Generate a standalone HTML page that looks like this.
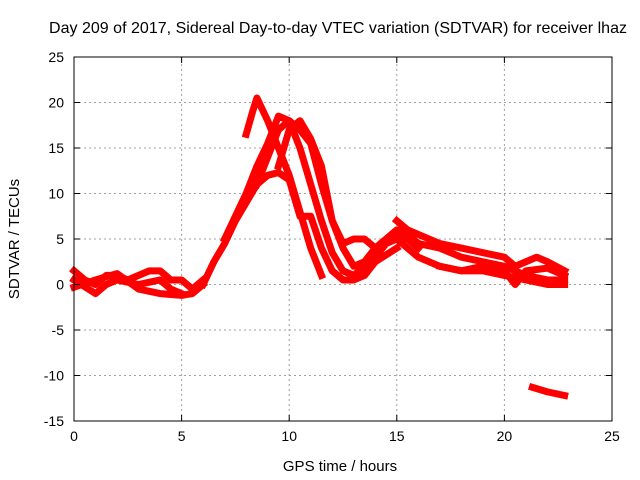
<!DOCTYPE html>
<html><head><meta charset="utf-8"><style>
body{margin:0;background:#fff;}
svg{display:block;font-family:"Liberation Sans",sans-serif;}
</style></head><body>
<svg id="chart" width="640" height="480">
<g id="grid"></g>
<g id="series"></g>
<g id="axes"></g>
<text x="338" y="33" text-anchor="middle" font-size="16" textLength="578">Day 209 of 2017, Sidereal Day-to-day VTEC variation (SDTVAR) for receiver lhaz</text>
<text x="340" y="471" text-anchor="middle" font-size="15">GPS time / hours</text>
<text x="19" y="239" text-anchor="middle" font-size="15" transform="rotate(-90 19 239)">SDTVAR / TECUs</text>
</svg>
<script>
const xTicks=[0,5,10,15,20,25];
const yTicks=[-15,-10,-5,0,5,10,15,20,25];
const tracks=[
[[0,1.5],[0.5,0.5],[1,0],[1.5,1],[2,1],[2.5,0.5],[3,1],[3.5,1.5],[4,1.5],[4.5,0.5],[5,0.5],[5.5,-0.5],[6,0.5]],
[[0,-0.3],[1,0.5],[2,1.2],[3,-0.5],[4,-1],[5,-1.2],[5.5,-1],[6,0]],
[[0,0.5],[1,-1],[1.5,0],[2,0.5],[3,0],[4,0.5],[4.5,-0.5],[5,-1]],
[[6,0],[6.5,2.5],[7,4.5],[7.5,7],[8,9],[8.5,11],[9,12],[9.5,12.3],[10,11.5],[10.5,7.5],[11,7.5],[11.5,4],[12,1.5],[12.5,0.5],[13,0.5],[13.5,1],[14,2.5],[15,4]],
[[7,5],[7.5,7.5],[8,10],[8.5,13],[9,15.5],[9.5,18.5],[10,18],[10.5,15],[11,11],[11.5,7],[12,3.5],[12.5,1.5],[13,1],[13.5,2],[14,3],[14.5,4.5],[15,5.5],[15.5,5],[16,4]],
[[8,16.5],[8.3,19],[8.5,20.5],[9,18],[9.5,15],[10,12],[10.5,8],[11,4],[11.5,1]],
[[8.5,11],[9,14],[9.5,17],[10,18],[10.5,17],[11,15.5],[11.5,11],[12,7],[12.5,4],[13,2],[13.5,2.5],[14,4],[14.5,5],[15,6],[15.5,5.5],[16,4.5],[17,4],[18,3],[19,2.5],[20,2],[21,1],[22,0.5],[22.8,0.5]],
[[9.5,13],[10,17],[10.5,18],[11,16],[11.5,13],[12,7],[12.5,4.5],[13,5],[13.5,5],[14,4],[15,5],[16,3],[17,2],[18,1.5],[19,1.5],[20,1],[21,0.5],[22,0],[22.8,0]],
[[15,7],[15.5,6],[16,5.5],[17,4.5],[18,4],[19,3.5],[20,3],[20.5,2],[21,2.5],[21.5,3],[22,2.5],[22.8,1.5]],
[[17,2],[18,1.5],[19,2],[20,1.5],[20.5,0],[21,1.5],[22,1.8],[22.8,1]],
[[21.3,-11.3],[22,-11.8],[22.8,-12.2]]
];
const X0=74,X1=612,Y0=421,Y1=57;
const sx=v=>X0+(v-0)/25*(X1-X0);
const sy=v=>Y0-(v+15)/40*(Y0-Y1);
const NS="http://www.w3.org/2000/svg";
const grid=document.getElementById('grid'),axes=document.getElementById('axes'),ser=document.getElementById('series');
function mk(tag,attrs,parent){const e=document.createElementNS(NS,tag);for(const k in attrs)e.setAttribute(k,attrs[k]);parent.appendChild(e);return e;}
xTicks.forEach(t=>{
 if(t>0&&t<25){const g=mk('line',{x1:sx(t),x2:sx(t),y1:Y0,y2:Y1,stroke:'#a0a0a0','stroke-dasharray':'2,3'},grid);
 }
 const l=mk('text',{x:sx(t),y:Y0+20,'text-anchor':'middle','font-size':14},axes);l.textContent=t;
 
 mk('line',{x1:sx(t),x2:sx(t),y1:Y0,y2:Y0-6,stroke:'#000'},axes);
 mk('line',{x1:sx(t),x2:sx(t),y1:Y1,y2:Y1+6,stroke:'#000'},axes);
});
yTicks.forEach(t=>{
 if(t>-15&&t<25){const g=mk('line',{x1:X0,x2:X1,y1:sy(t),y2:sy(t),stroke:'#a0a0a0','stroke-dasharray':'2,3'},grid);
 }
 const l=mk('text',{x:X0-10,y:sy(t)+5,'text-anchor':'end','font-size':14},axes);l.textContent=t;
 
 mk('line',{x1:X0,x2:X0+6,y1:sy(t),y2:sy(t),stroke:'#000'},axes);
 mk('line',{x1:X1,x2:X1-6,y1:sy(t),y2:sy(t),stroke:'#000'},axes);
});
const fr=mk('rect',{x:X0,y:Y1,width:X1-X0,height:Y0-Y1,fill:'none',stroke:'#000'},axes);

tracks.forEach(tr=>{
 const p=mk('polyline',{points:tr.map(d=>sx(d[0])+','+sy(d[1])).join(' '),fill:'none',stroke:'#ff0000','stroke-width':7,'stroke-linejoin':'round','stroke-linecap':'square'},ser);
 
 
});
</script>
</body></html>
